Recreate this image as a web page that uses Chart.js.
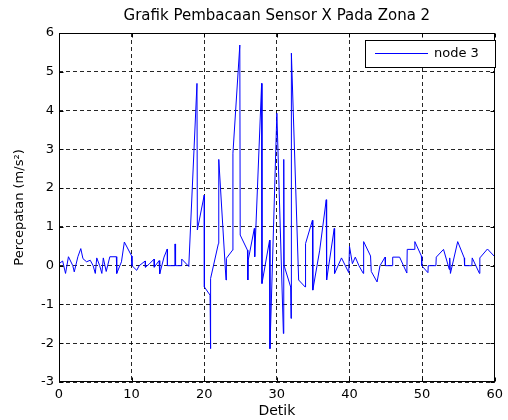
<!DOCTYPE html>
<html><head><meta charset="utf-8">
<script src="https://cdn.jsdelivr.net/npm/chart.js@4/dist/chart.umd.min.js"></script>
<style>html,body{margin:0;padding:0;background:#fff}</style>
</head><body>
<canvas id="c" width="508" height="420"></canvas>
<script>
// ---- data ----
const chartTitle = 'Grafik Pembacaan Sensor X Pada Zona 2';
const xTitle = 'Detik';
const yTitle = 'Percepatan (m/s\u00B2)';
const seriesLabel = 'node 3';
const xTicks = [0, 10, 20, 30, 40, 50, 60];
const yTicks = [-3, -2, -1, 0, 1, 2, 3, 4, 5, 6];

const timeSec = [
  0.0, 0.5, 0.9, 1.3, 1.9, 2.1, 2.6, 3.0, 3.3, 3.8,
  4.3, 4.7, 5.0, 5.2, 5.6, 5.9, 6.1, 6.5, 7.0, 7.9,
  7.95, 8.6, 9.0, 10.0, 10.05, 10.7, 11.05, 11.87, 11.9, 12.41,
  13.1, 13.12, 13.78, 13.87, 14.46, 14.91, 14.93, 15.96, 15.98, 16.05,
  16.87, 16.9, 17.87, 19.0, 19.05, 20.0, 20.02, 20.8, 20.85, 20.9,
  21.95, 22.0, 23.0, 23.05, 23.9, 23.95, 24.9, 24.95, 25.95, 26.0,
  26.05, 26.9, 26.95, 27.9, 27.95, 29.0, 29.05, 30.0, 30.9, 30.95,
  31.0, 31.9, 31.95, 32.0, 33.0, 33.9, 33.95, 34.9, 34.95, 35.9,
  36.8, 36.85, 37.9, 37.95, 38.9, 39.9, 40.0, 40.4, 40.8, 41.3,
  41.9, 41.95, 42.9, 43.0, 43.8, 44.2, 44.9, 44.95, 45.9, 45.95,
  46.9, 47.9, 47.95, 48.9, 49.0, 49.9, 49.95, 50.8, 50.85, 51.9,
  51.95, 52.95, 53.75, 53.8, 53.9, 54.9, 55.8, 55.85, 56.85, 56.9,
  57.9, 57.95, 59.0, 60.0
];
const accelNode3 = [
  0.05, 0.12, -0.2, 0.23, 0.0, -0.16, 0.23, 0.44, 0.18, 0.1,
  0.14, 0.0, -0.2, 0.2, 0.0, -0.2, 0.2, -0.15, 0.23, 0.23,
  -0.2, 0.1, 0.61, 0.25, 0.0, -0.12, 0.0, 0.12, -0.04, 0.04,
  0.17, -0.04, 0.13, -0.21, 0.22, 0.43, 0.0, 0.0, 0.56, 0.0,
  0.0, 0.17, -0.02, 4.70, 0.92, 1.82, -0.55, -0.76, -2.14, -0.33,
  0.57, 2.74, -0.37, 0.19, 0.40, 2.90, 5.69, 0.79, 0.40, -0.37,
  0.14, 0.96, 0.23, 4.70, -0.46, 0.66, -2.14, 3.93, -1.75, 2.74,
  0.0, -0.55, -1.36, 5.48, -0.37, -0.55, 0.57, 1.17, -0.63, 0.40,
  1.70, -0.37, 0.96, -0.2, 0.2, -0.18, 0.5, 0.05, 0.22, 0.0,
  -0.2, 0.62, 0.25, -0.15, -0.42, 0.0, 0.22, 0.0, 0.0, 0.22,
  0.22, -0.19, 0.42, 0.42, 0.62, 0.25, 0.0, -0.18, 0.0, 0.0,
  0.22, 0.42, -0.1, 0.2, -0.2, 0.62, 0.2, 0.0, 0.0, 0.2,
  -0.2, 0.2, 0.43, 0.23
];

const points = timeSec.map((t, i) => ({ x: t, y: accelNode3[i] }));

Chart.defaults.font.family = "'DejaVu Sans', sans-serif";
Chart.defaults.color = '#000';

const matlabFrame = {
  id: 'matlabFrame',
  beforeDraw(chart) {
    const ctx = chart.ctx;
    ctx.save();
    ctx.fillStyle = '#fff';
    ctx.fillRect(0, 0, chart.width, chart.height);
    ctx.restore();
  },
  afterDraw(chart) {
    const { ctx, chartArea: a, scales } = chart;
    ctx.save();
    ctx.strokeStyle = '#000';
    ctx.lineWidth = 1;
    ctx.setLineDash([]);
    const L = Math.round(a.left) + 0.5, R = Math.round(a.right) - 0.5;
    const T = Math.round(a.top) + 0.5, B = Math.round(a.bottom) - 0.5;
    ctx.strokeRect(L, T, R - L, B - T);
    const tl = 4;
    ctx.beginPath();
    xTicks.forEach(v => {
      const x = Math.round(scales.x.getPixelForValue(v)) + 0.5;
      ctx.moveTo(x, B); ctx.lineTo(x, B - tl);
      ctx.moveTo(x, T); ctx.lineTo(x, T + tl);
    });
    yTicks.forEach(v => {
      const y = Math.round(scales.y.getPixelForValue(v)) + 0.5;
      ctx.moveTo(L, y); ctx.lineTo(L + tl, y);
      ctx.moveTo(R, y); ctx.lineTo(R - tl, y);
    });
    ctx.stroke();
    // legend box (MATLAB style, inside the axes, top right)
    const ds = chart.data.datasets[0];
    const bx = 365.5, by = 40.5, bw = 130, bh = 27;
    ctx.fillStyle = '#fff';
    ctx.fillRect(bx, by, bw, bh);
    ctx.strokeStyle = '#000';
    ctx.strokeRect(bx, by, bw, bh);
    ctx.strokeStyle = ds.borderColor;
    ctx.beginPath();
    ctx.moveTo(375, 53.5); ctx.lineTo(428, 53.5);
    ctx.stroke();
    ctx.fillStyle = '#000';
    ctx.font = "13px 'DejaVu Sans', sans-serif";
    ctx.textBaseline = 'middle';
    ctx.textAlign = 'left';
    ctx.fillText(ds.label, 434, 54);
    ctx.restore();
  }
};

new Chart(document.getElementById('c'), {
  type: 'line',
  data: {
    datasets: [{
      label: seriesLabel,
      data: points,
      borderColor: '#0000ff',
      borderWidth: 1,
      pointRadius: 0,
      tension: 0,
      fill: false
    }]
  },
  options: {
    responsive: false,
    animation: false,
    devicePixelRatio: 1,
    layout: { padding: { left: 0, right: 9, top: 0, bottom: 0 } },
    plugins: {
      legend: { display: false },
      tooltip: { enabled: false },
      title: {
        display: true,
        fullSize: false,
        text: chartTitle,
        color: '#000',
        font: { size: 15, weight: 'normal' },
        padding: { top: 7, bottom: 8 }
      }
    },
    scales: {
      x: {
        type: 'linear',
        min: xTicks[0],
        max: xTicks[xTicks.length - 1],
        afterBuildTicks: s => { s.ticks = xTicks.map(v => ({ value: v })); },
        afterFit: s => { s.height = 38; },
        ticks: { padding: 5, font: { size: 13 }, color: '#000', maxRotation: 0 },
        grid: { color: 'rgba(0,0,0,0.85)', lineWidth: 1, drawTicks: false },
        border: { display: false, dash: [4, 3] },
        title: { display: true, text: xTitle, font: { size: 14 }, color: '#000', padding: { top: 0, bottom: 0 } }
      },
      y: {
        type: 'linear',
        min: yTicks[0],
        max: yTicks[yTicks.length - 1],
        afterBuildTicks: s => { s.ticks = yTicks.map(v => ({ value: v })); },
        afterFit: s => { s.width = 59; },
        ticks: { padding: 5, font: { size: 13 }, color: '#000' },
        grid: { color: 'rgba(0,0,0,0.85)', lineWidth: 1, drawTicks: false },
        border: { display: false, dash: [4, 3] },
        title: { display: true, text: yTitle, font: { size: 13 }, color: '#000', padding: { top: 12, bottom: 0 } }
      }
    }
  },
  plugins: [matlabFrame]
});
</script>
</body></html>
